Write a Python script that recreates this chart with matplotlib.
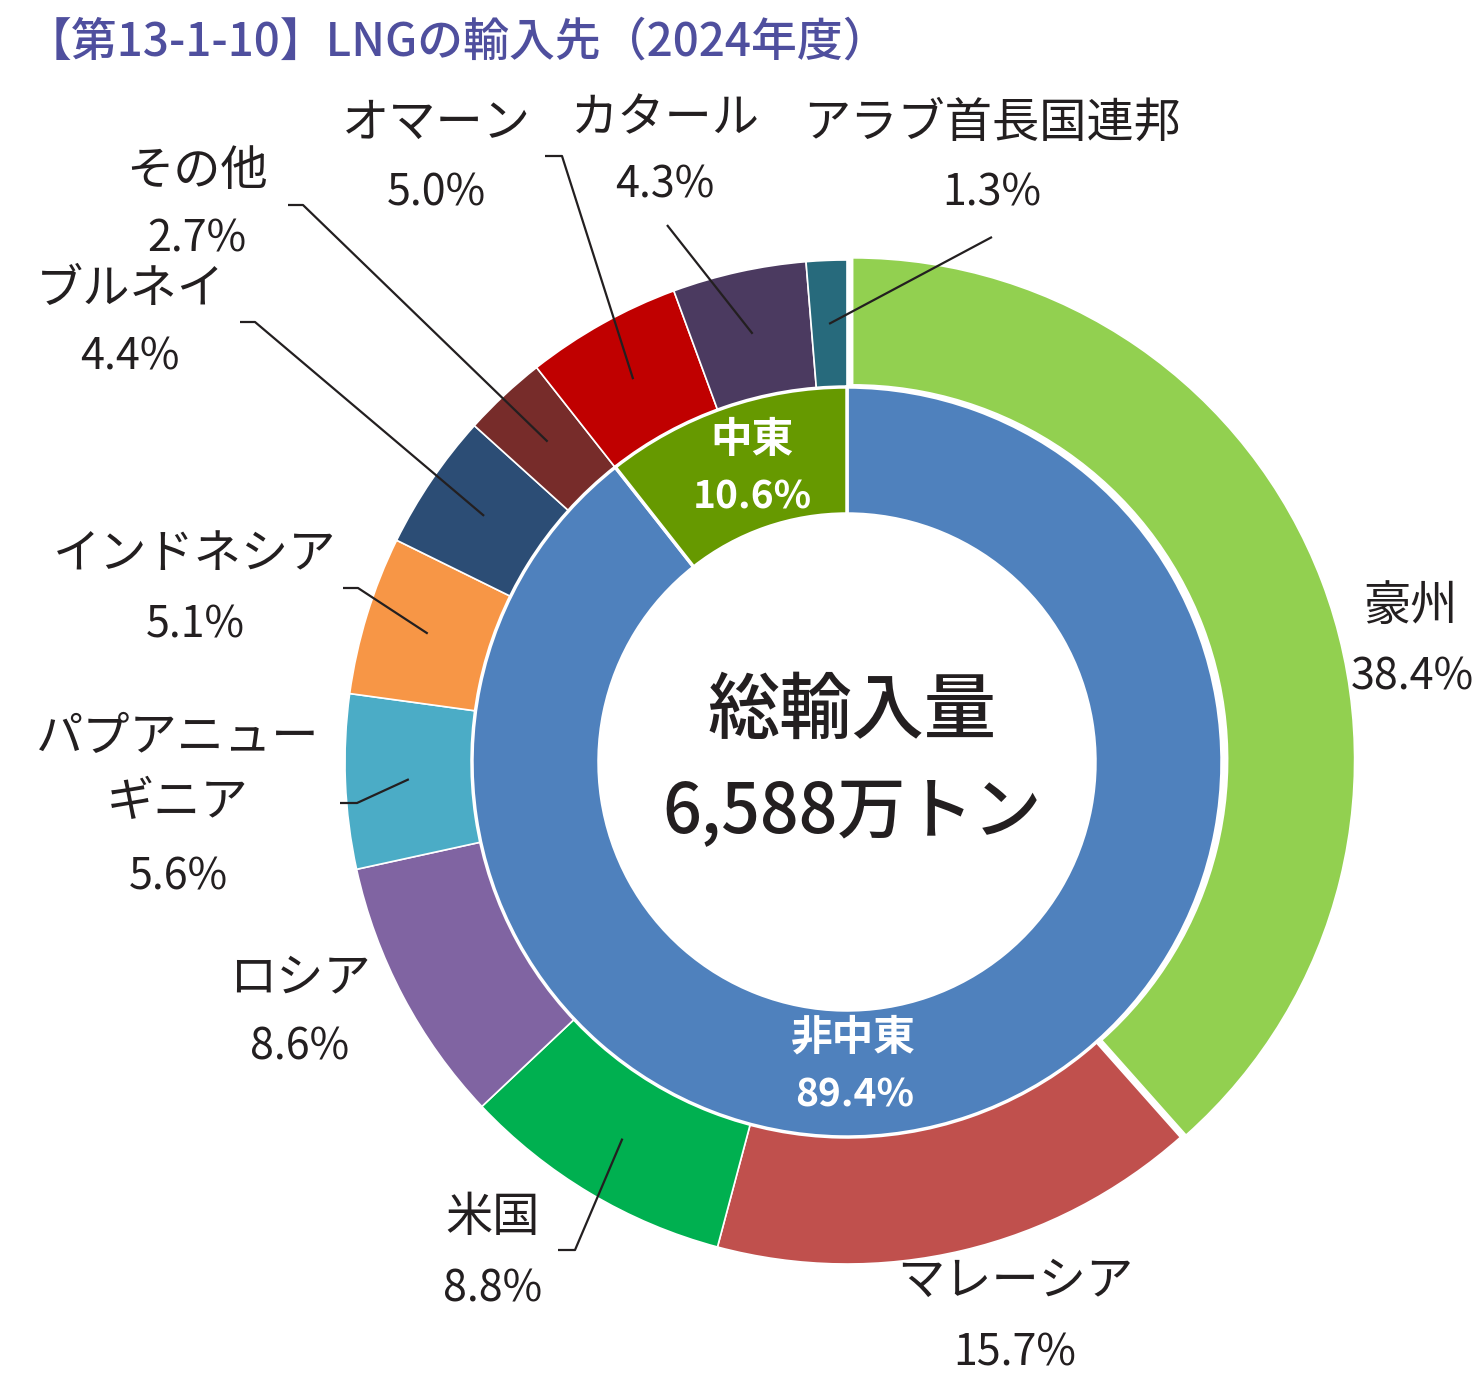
import math
import matplotlib.pyplot as plt

plt.rcParams['font.family'] = ['Noto Sans CJK JP', 'DejaVu Sans']

# outer ring: supplier countries, clockwise from 12 o'clock
countries = ['豪州', 'マレーシア', '米国', 'ロシア', 'パプアニュー\nギニア', 'インドネシア',
             'ブルネイ', 'その他', 'オマーン', 'カタール', 'アラブ首長国連邦']
shares = [38.4, 15.7, 8.8, 8.6, 5.6, 5.1, 4.4, 2.7, 5.0, 4.3, 1.3]
country_colors = ['#92D050', '#C0504D', '#00B050', '#8064A2', '#4BACC6', '#F79646',
                  '#2C4D75', '#772C2A', '#C00000', '#4B3A60', '#276A7C']

# inner ring: region
regions = ['非中東', '中東']
region_shares = [89.4, 10.6]
region_colors = ['#4F81BD', '#669900']

total_label = '総輸入量'
total_value = '6,588万トン'
title = '【第13-1-10】LNGの輸入先（2024年度）'

W, H = 1477, 1383
fig = plt.figure(figsize=(W / 100, H / 100), dpi=100)
ax = fig.add_axes([0, 0, 1, 1])

def P(x, y):
    # image pixel coords (y down) -> data coords
    return (x, H - y)

cx, cy = P(847, 762)
R_out, w_out = 502, 127
R_in, w_in = 375, 127

outer, _ = ax.pie(shares, colors=country_colors, radius=R_out, center=(cx, cy),
                  startangle=90, counterclock=False,
                  explode=[6] + [0] * (len(shares) - 1),
                  wedgeprops=dict(width=w_out, edgecolor='white', linewidth=1.2))
inner, _ = ax.pie(region_shares, colors=region_colors, radius=R_in, center=(cx, cy),
                  startangle=90, counterclock=False,
                  wedgeprops=dict(width=w_in, edgecolor='white', linewidth=2.5))

ax.set_xlim(0, W)
ax.set_ylim(0, H)
ax.set_aspect('equal')
ax.axis('off')

txt = '#231F20'
name_fs, pct_fs = 34, 31

# label position (name centre, pct centre) in image px
label_pos = {
    '豪州': ((1410, 607), (1412, 678)),
    'マレーシア': ((1015, 1282), (1015, 1353)),
    '米国': ((493, 1218), (493, 1290)),
    'ロシア': ((300, 978), (300, 1048)),
    'パプアニュー\nギニア': ((178, 770), (178, 877)),
    'インドネシア': ((195, 555), (195, 625)),
    'ブルネイ': ((130, 290), (130, 358)),
    'その他': ((197, 172), (197, 240)),
    'オマーン': ((436, 124), (436, 193)),
    'カタール': ((665, 119), (665, 186)),
    'アラブ首長国連邦': ((992, 124), (992, 193)),
}
# leader line layout: image-px points, the line then runs into the slice
leaders = {
    '米国': [(558, 1250), (575, 1250)],
    'パプアニュー\nギニア': [(340, 803), (357, 803)],
    'インドネシア': [(343, 588), (358, 588)],
    'ブルネイ': [(240, 322), (255, 322)],
    'その他': [(288, 205), (303, 205)],
    'オマーン': [(545, 156), (562, 156)],
    'カタール': [(667, 225)],
    'アラブ首長国連邦': [(992, 237)],
}

r_mid = R_out - w_out / 2
for wedge, name, val in zip(outer, countries, shares):
    (nx, ny), (px, py) = label_pos[name]
    ax.text(*P(nx, ny), name, ha='center', va='center', fontsize=name_fs,
            color=txt, linespacing=1.45)
    ax.text(*P(px, py), f'{val:.1f}%', ha='center', va='center', fontsize=pct_fs,
            color=txt)
    if name in leaders:
        ang = math.radians((wedge.theta1 + wedge.theta2) / 2)
        ex = wedge.center[0] + r_mid * math.cos(ang)
        ey = wedge.center[1] + r_mid * math.sin(ang)
        pts = [P(x, y) for x, y in leaders[name]] + [(ex, ey)]
        ax.plot([p[0] for p in pts], [p[1] for p in pts], color=txt, lw=1.6,
                solid_capstyle='butt')

# inner ring labels
region_pos = {'非中東': ((853, 1038), (855, 1095)), '中東': ((752, 440), (752, 497))}
for name, val in zip(regions, region_shares):
    (nx, ny), (px, py) = region_pos[name]
    ax.text(*P(nx, ny), name, ha='center', va='center', fontsize=30,
            color='white', fontweight='bold')
    ax.text(*P(px, py), f'{val:.1f}%', ha='center', va='center', fontsize=28,
            color='white', fontweight='bold')

# centre
ax.text(*P(852, 712), total_label, ha='center', va='center', fontsize=52,
        color=txt, fontweight='medium')
ax.text(*P(852, 812), total_value, ha='center', va='center', fontsize=49,
        color=txt, fontweight='medium')

# title
ax.text(*P(26, 42), title, ha='left', va='center', fontsize=33,
        color='#4F4F9E', fontweight='medium')

fig.savefig('out.png', dpi=100)
